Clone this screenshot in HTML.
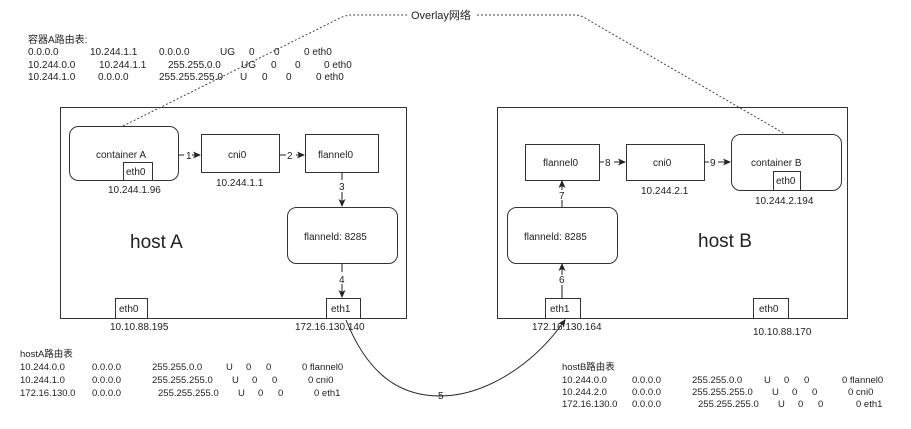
<!DOCTYPE html>
<html><head><meta charset="utf-8"><style>
html,body{margin:0;padding:0;background:#fff}
svg{display:block}
text{font-family:"Liberation Sans","Noto Sans CJK SC",sans-serif;fill:#222}
.t{font-size:10px}
.s{font-size:11px}
</style></head><body>
<svg width="911" height="429" viewBox="0 0 911 429" xmlns="http://www.w3.org/2000/svg">
<defs><marker id="a" markerWidth="8" markerHeight="8" refX="7" refY="4" orient="auto" markerUnits="userSpaceOnUse"><path d="M0,0.5 L8,4 L0,7.5 L2,4 z" fill="#222"/></marker></defs>
<g fill="none" stroke="#333" stroke-width="1">
<rect x="60.5" y="107.5" width="346" height="211"/>
<rect x="497.5" y="107.5" width="350" height="211"/>
<rect x="69.5" y="126.5" width="109" height="54" rx="9"/>
<rect x="123.5" y="162.5" width="29" height="18"/>
<rect x="201.5" y="134.5" width="78" height="38"/>
<rect x="305.5" y="134.5" width="73" height="38"/>
<rect x="287.5" y="207.5" width="110" height="56" rx="9"/>
<rect x="115.5" y="298.5" width="32" height="20"/>
<rect x="326.5" y="298.5" width="34" height="20"/>
<rect x="525.5" y="144.5" width="74" height="36"/>
<rect x="626.5" y="144.5" width="78" height="36"/>
<rect x="731.5" y="134.5" width="110" height="56" rx="9"/>
<rect x="773.5" y="171.5" width="27" height="19"/>
<rect x="507.5" y="207.5" width="110" height="56" rx="9"/>
<rect x="545.5" y="298.5" width="35" height="20"/>
<rect x="753.5" y="298.5" width="35" height="20"/>
</g>
<g stroke="#222" stroke-width="1" fill="none">
<path d="M178,155 H184 M192,155 H200" /><path d="M192,155 H200" marker-end="url(#a)"/>
<path d="M279,155 H286 M296,155 H304" /><path d="M296,155 H304" marker-end="url(#a)"/>
<path d="M342,172 V180 M342,192 V206" marker-end="url(#a)"/>
<path d="M342,263 V272 M342,284 V297" marker-end="url(#a)"/>
<path d="M599,162 H604 M614,162 H625" marker-end="url(#a)"/>
<path d="M704,162 H709 M718,162 H730" marker-end="url(#a)"/>
<path d="M562,207 V200 M562,190 V181" marker-end="url(#a)"/>
<path d="M562,298 V285 M562,275 V264" marker-end="url(#a)"/>
<path d="M346,320 C370,380 405,396 440,396 C480,396 530,370 565,320" marker-end="url(#a)"/>
</g>
<g stroke="#444" stroke-width="1" fill="none" stroke-dasharray="2,2">
<path d="M123,126 L340,18 Q346,15 352,15 H408"/>
<path d="M477,15 H575 Q580,15 585,18 L785,134"/>
</g>
<text class="s" x="411" y="19">Overlay网络</text>
<g class="t">
<text x="28" y="43">容器A路由表:</text>
<text x="28" y="55">0.0.0.0</text><text x="90" y="55">10.244.1.1</text><text x="159" y="55">0.0.0.0</text><text x="220" y="55">UG</text><text x="249" y="55">0</text><text x="274" y="55">0</text><text x="304" y="55">0 eth0</text>
<text x="28" y="68">10.244.0.0</text><text x="99" y="68">10.244.1.1</text><text x="168" y="68">255.255.0.0</text><text x="241" y="68">UG</text><text x="271" y="68">0</text><text x="295" y="68">0</text><text x="324" y="68">0 eth0</text>
<text x="28" y="80">10.244.1.0</text><text x="98" y="80">0.0.0.0</text><text x="159" y="80">255.255.255.0</text><text x="240" y="80">U</text><text x="262" y="80">0</text><text x="286" y="80">0</text><text x="316" y="80">0 eth0</text>
</g>
<text class="t" x="96" y="158">container A</text>
<text class="t" x="126" y="175">eth0</text>
<text class="t" x="108" y="193">10.244.1.96</text>
<text class="t" x="228" y="158">cni0</text>
<text class="t" x="216" y="186">10.244.1.1</text>
<text class="t" x="318" y="158">flannel0</text>
<text class="t" x="304" y="240">flanneld: 8285</text>
<text x="130" y="248" style="font-size:19px">host A</text>
<text class="t" x="186" y="159">1</text><text class="t" x="287" y="159">2</text>
<text class="t" x="339" y="190">3</text><text class="t" x="339" y="283">4</text>
<text class="t" x="119" y="312">eth0</text>
<text class="t" x="331" y="312">eth1</text>
<text class="t" x="110" y="330">10.10.88.195</text>
<text class="t" x="295" y="330">172.16.130.140</text>
<text class="t" x="438" y="399">5</text>
<text class="t" x="543" y="166">flannel0</text>
<text class="t" x="653" y="166">cni0</text>
<text class="t" x="641" y="194">10.244.2.1</text>
<text class="t" x="751" y="166">container B</text>
<text class="t" x="776" y="184">eth0</text>
<text class="t" x="755" y="204">10.244.2.194</text>
<text class="t" x="524" y="240">flanneld: 8285</text>
<text x="698" y="247" style="font-size:19px">host B</text>
<text class="t" x="605" y="166">8</text><text class="t" x="710" y="166">9</text>
<text class="t" x="559" y="199">7</text><text class="t" x="559" y="283">6</text>
<text class="t" x="550" y="312">eth1</text>
<text class="t" x="759" y="312">eth0</text>
<text class="t" x="532" y="330">172.16.130.164</text>
<text class="t" x="753" y="335">10.10.88.170</text>
<g class="t" style="font-size:9.5px">
<text x="20" y="357">hostA路由表</text>
<text x="20" y="370">10.244.0.0</text><text x="92" y="370">0.0.0.0</text><text x="152" y="370">255.255.0.0</text><text x="226" y="370">U</text><text x="246" y="370">0</text><text x="266" y="370">0</text><text x="302" y="370">0 flannel0</text>
<text x="20" y="383">10.244.1.0</text><text x="92" y="383">0.0.0.0</text><text x="152" y="383">255.255.255.0</text><text x="232" y="383">U</text><text x="252" y="383">0</text><text x="272" y="383">0</text><text x="308" y="383">0 cni0</text>
<text x="20" y="396">172.16.130.0</text><text x="92" y="396">0.0.0.0</text><text x="158" y="396">255.255.255.0</text><text x="238" y="396">U</text><text x="258" y="396">0</text><text x="278" y="396">0</text><text x="314" y="396">0 eth1</text>
<text x="562" y="370">hostB路由表</text>
<text x="562" y="383">10.244.0.0</text><text x="632" y="383">0.0.0.0</text><text x="692" y="383">255.255.0.0</text><text x="764" y="383">U</text><text x="784" y="383">0</text><text x="804" y="383">0</text><text x="842" y="383">0 flannel0</text>
<text x="562" y="395">10.244.2.0</text><text x="632" y="395">0.0.0.0</text><text x="692" y="395">255.255.255.0</text><text x="772" y="395">U</text><text x="792" y="395">0</text><text x="812" y="395">0</text><text x="848" y="395">0 cni0</text>
<text x="562" y="407">172.16.130.0</text><text x="632" y="407">0.0.0.0</text><text x="698" y="407">255.255.255.0</text><text x="778" y="407">U</text><text x="798" y="407">0</text><text x="818" y="407">0</text><text x="856" y="407">0 eth1</text>
</g>
</svg>
</body></html>
